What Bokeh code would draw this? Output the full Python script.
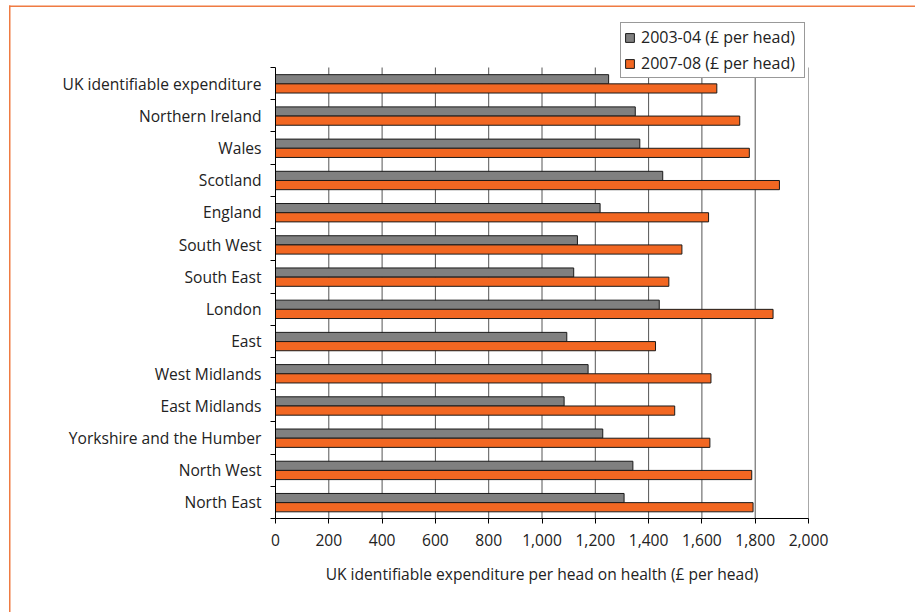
from bokeh.plotting import figure
from bokeh.models import (ColumnDataSource, FixedTicker, NumeralTickFormatter, Range1d,
                          Legend, LegendItem, BoxAnnotation)
from bokeh.transform import dodge
from bokeh.embed import file_html
from bokeh.resources import INLINE

# Health spending per head by region, top row first
regions = [
    "UK identifiable expenditure", "Northern Ireland", "Wales", "Scotland", "England",
    "South West", "South East", "London", "East", "West Midlands", "East Midlands",
    "Yorkshire and the Humber", "North West", "North East",
]
spend_2003_04 = [1250, 1350, 1367, 1453, 1218, 1133, 1119, 1440, 1093, 1173, 1083, 1228, 1341, 1308]
spend_2007_08 = [1656, 1742, 1778, 1891, 1625, 1525, 1476, 1867, 1426, 1634, 1498, 1630, 1787, 1792]
series_labels = ["2003-04 (£ per head)", "2007-08 (£ per head)"]
x_ticks = [0, 200, 400, 600, 800, 1000, 1200, 1400, 1600, 1800, 2000]
x_title = "UK identifiable expenditure per head on health (£ per head)"

FONT = "Open Sans"
TEXT = "#222222"
GREY = "#808080"
ORANGE = "#F26722"
RULE = "#EF7B42"

# page geometry (pixels): the plotting frame spans the whole page and the
# axes are pinned at the data origin, so the legend and page rule can sit
# anywhere without being clipped
W, H = 915, 612
AX_LEFT, AX_RIGHT, AX_TOP, AX_BOTTOM = 275, 808, 67, 518

n = len(regions)
x_lo, x_hi = x_ticks[0], x_ticks[-1]
x_per_px = (x_hi - x_lo) / (AX_RIGHT - AX_LEFT)
y_per_px = n / (AX_BOTTOM - AX_TOP)
x_range = Range1d(x_lo - AX_LEFT * x_per_px, x_hi + (W - AX_RIGHT) * x_per_px)
y_range = Range1d(-(H - AX_BOTTOM) * y_per_px, n + AX_TOP * y_per_px)

centers = [n - 0.5 - i for i in range(n)]
source = ColumnDataSource(dict(region=regions, y=centers, a=spend_2003_04, b=spend_2007_08))

p = figure(width=W, height=H, output_backend="svg", toolbar_location=None,
           x_range=x_range, y_range=y_range,
           min_border_left=0, min_border_right=0, min_border_top=0, min_border_bottom=0,
           background_fill_color="white", border_fill_color="white")
p.outline_line_color = None
p.xgrid.grid_line_color = None
p.ygrid.grid_line_color = None

# vertical gridlines at the x ticks (the last one lighter)
p.segment(x0=x_ticks[1:-1], x1=x_ticks[1:-1], y0=0, y1=n, line_color="#555555", line_width=1)
p.segment(x0=x_ticks[-1:], x1=x_ticks[-1:], y0=0, y1=n, line_color="#a8a8a8", line_width=1)

r1 = p.hbar(y=dodge("y", 0.135, range=p.y_range), left=0, right="a", height=0.285,
            fill_color=GREY, line_color="#1a1a1a", line_width=1, source=source)
r2 = p.hbar(y=dodge("y", -0.15, range=p.y_range), left=0, right="b", height=0.285,
            fill_color=ORANGE, line_color="#1a1a1a", line_width=1, source=source)

# x axis pinned at y = 0
xa = p.xaxis[0]
xa.fixed_location = 0
xa.bounds = (x_lo, x_hi)
xa.ticker = FixedTicker(ticks=x_ticks)
xa.formatter = NumeralTickFormatter(format="0,0")
xa.axis_label = x_title
xa.axis_label_text_font = FONT
xa.axis_label_text_font_size = "15.6px"
xa.axis_label_text_font_style = "normal"
xa.axis_label_text_color = TEXT
xa.axis_label_standoff = 14
xa.major_label_text_font = FONT
xa.major_label_text_font_size = "15.6px"
xa.major_label_text_color = TEXT
xa.major_label_standoff = 10
xa.major_tick_in = 0
xa.major_tick_out = 5
xa.major_tick_line_color = "black"
xa.minor_tick_line_color = None
xa.axis_line_color = "black"

# y axis pinned at x = 0: names at band centres, tick marks at band boundaries
ya = p.yaxis[0]
ya.fixed_location = 0
ya.bounds = (0, n)
ya.ticker = FixedTicker(ticks=centers, minor_ticks=list(range(n + 1)))
ya.major_label_overrides = {c: name for c, name in zip(centers, regions)}
ya.major_label_text_font = FONT
ya.major_label_text_font_size = "15.6px"
ya.major_label_text_color = TEXT
ya.major_label_standoff = 9
ya.major_tick_line_color = None
ya.major_tick_in = 0
ya.major_tick_out = 5
ya.minor_tick_in = 0
ya.minor_tick_out = 5
ya.minor_tick_line_color = "black"
ya.axis_line_color = "black"

legend = Legend(
    items=[LegendItem(label=series_labels[0], renderers=[r1]),
           LegendItem(label=series_labels[1], renderers=[r2])],
    location=(620, H - 78), orientation="vertical", margin=0,
    glyph_width=11, glyph_height=11, label_standoff=6, padding=3, spacing=4,
    label_height=20, label_width=160,
    label_text_font=FONT, label_text_font_size="16px", label_text_color=TEXT,
    border_line_color="#333333", border_line_width=1,
    background_fill_color="white", background_fill_alpha=1,
)
p.add_layout(legend)

# orange page rule along the top and left edges (thin filled strips)
def rule(left, right, top, bottom):
    return BoxAnnotation(left=left, right=right, top=top, bottom=bottom,
                         left_units="screen", right_units="screen",
                         top_units="screen", bottom_units="screen",
                         fill_color=RULE, fill_alpha=1, line_color=None, line_alpha=0,
                         level="overlay")

p.add_layout(rule(8.5, W, H - 5.0, H - 6.5))
p.add_layout(rule(8.5, 10.0, H - 5.0, 0))

open("out.html", "w").write(file_html(p, INLINE))
